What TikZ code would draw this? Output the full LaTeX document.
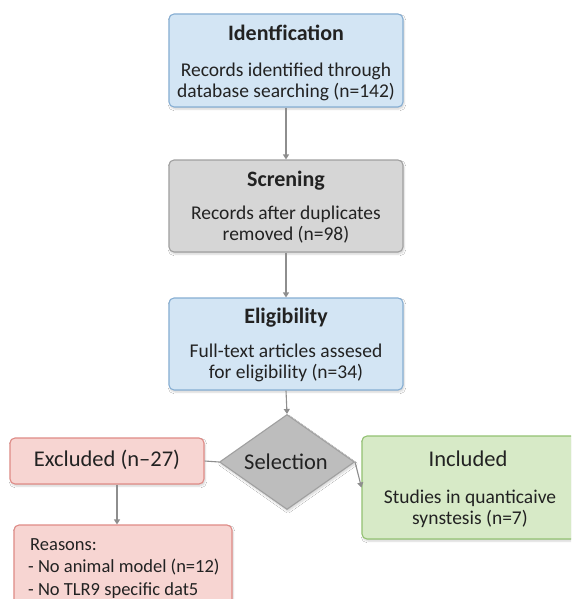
\documentclass[tikz,border=0pt]{standalone}
\usepackage{fontspec}
\setmainfont{Carlito}
\usetikzlibrary{shapes.geometric,arrows.meta,shadows.blur}
\definecolor{bluefill}{HTML}{D3E5F4}
\definecolor{blueline}{HTML}{86AED3}
\definecolor{grayfill}{HTML}{D6D6D6}
\definecolor{grayline}{HTML}{A0A0A0}
\definecolor{redfill}{HTML}{F7D5D2}
\definecolor{redline}{HTML}{DF8B86}
\definecolor{greenfill}{HTML}{D7EAC7}
\definecolor{greenline}{HTML}{93C272}
\definecolor{diafill}{HTML}{BDBDBD}
\definecolor{arrowcol}{HTML}{8E8E8E}
\definecolor{txt}{HTML}{222222}
\tikzset{
  box/.style={draw, rounded corners=5pt, line width=1.1pt, inner sep=0pt,
    blur shadow={shadow blur steps=6, shadow xshift=1pt, shadow yshift=-2pt, shadow opacity=18}},
  bluebox/.style={box, fill=bluefill, draw=blueline},
  graybox/.style={box, fill=grayfill, draw=grayline},
  redbox/.style={box, fill=redfill, draw=redline},
  greenbox/.style={box, fill=greenfill, draw=greenline},
  ttl/.style={text=txt, font=\fontsize{22}{25}\selectfont\bfseries, inner sep=0pt},
  big/.style={text=txt, font=\fontsize{22.5}{25}\selectfont, inner sep=0pt},
  body/.style={text=txt, font=\fontsize{19.5}{21}\selectfont, align=center, inner sep=0pt},
  arr/.style={draw=arrowcol, line width=1.1pt, -{Triangle[width=6pt,length=5pt]}},
  ln/.style={draw=arrowcol, line width=1.1pt}
}
\begin{document}
\begin{tikzpicture}[x=1pt,y=-1pt]
\useasboundingbox (0,0) rectangle (571,599);
\fill[white] (0,0) rectangle (571,599);
\begin{scope}
\clip (0,0) rectangle (571,599);
% main boxes
\node[bluebox, minimum width=234pt, minimum height=93pt] (id) at (286,60.5) {};
\node[graybox, minimum width=234pt, minimum height=92pt] (sc) at (286,206) {};
\node[bluebox, minimum width=234pt, minimum height=92pt] (el) at (286,344) {};
\node[redbox, minimum width=194pt, minimum height=46pt] (ex) at (107,461) {};
\node[greenbox, minimum width=214pt, minimum height=103pt] (in) at (469,487.5) {};
\node[redbox, minimum width=218pt, minimum height=90pt] (re) at (123,570) {};
\node[draw=grayline, fill=diafill, shape=diamond, line width=1.1pt, inner sep=0pt,
  minimum width=135pt, minimum height=95pt,
  blur shadow={shadow blur steps=6, shadow xshift=1pt, shadow yshift=-2pt, shadow opacity=18}] (dia) at (287,462) {};
% texts
\node[ttl] (idT) at (286,33) {Identfication};
\node[body] (idB) at (286,82) {Records identified through\\database searching (n=142)};
\node[ttl] (scT) at (286,181) {Screning};
\node[body] (scB) at (286,225) {Records after duplicates\\removed (n=98)};
\node[ttl] (elT) at (286,318) {Eligibility};
\node[body] (elB) at (286,363) {Full-text articles assesed\\for eligibility (n=34)};
\node[big] (exT) at (107,460) {Excluded (n–27)};
\node[big] (diaT) at (286,462) {Selection};
\node[big] (inT) at (468,459) {Included};
\node[body] (inB) at (470,509) {Studies in quanticaive\\synstesis (n=7)};
\node[text=txt, font=\fontsize{18.5}{22.5}\selectfont, align=left, inner sep=0pt, anchor=north west] (reT) at (28,538)
  {\hspace*{2pt}Reasons:\\- No animal model (n=12)\\- No TLR9 specific dat5};
% connectors
\draw[arr] (id.south) -- (sc.north);
\draw[arr] (sc.south) -- (el.north);
\draw[arr] (el.south) -- (dia.north);
\draw[ln] (ex.east) -- (dia.west);
\draw[arr] (dia.east) -- (in.west);
\draw[arr] ([xshift=10pt]ex.south) -- ([xshift=10pt]ex.south |- re.north);
\end{scope}
\end{tikzpicture}
\end{document}
